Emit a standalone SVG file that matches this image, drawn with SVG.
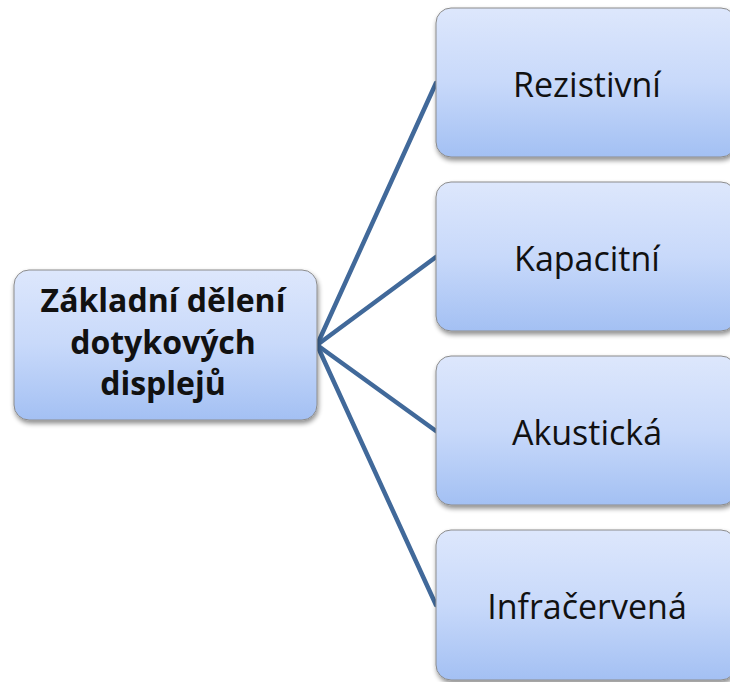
<svg xmlns="http://www.w3.org/2000/svg" width="730" height="682" viewBox="0 0 730 682">
<defs>
<linearGradient id="g" x1="0" y1="0" x2="0" y2="1">
<stop offset="0" stop-color="#DDE7FC"/>
<stop offset="0.5" stop-color="#C8D9FA"/>
<stop offset="1" stop-color="#A3C0F3"/>
</linearGradient>
<filter id="sh" x="-10%" y="-10%" width="125%" height="130%">
<feGaussianBlur in="SourceAlpha" stdDeviation="2.5"/>
<feOffset dx="1" dy="3" result="b"/>
<feComponentTransfer><feFuncA type="linear" slope="0.45"/></feComponentTransfer>
<feMerge><feMergeNode/><feMergeNode in="SourceGraphic"/></feMerge>
</filter>
</defs>
<style>
.box{fill:url(#g);stroke:#8C8C8C;stroke-width:1;filter:url(#sh)}
.t{font-family:"Open Sans","Liberation Sans",sans-serif;font-size:34px;fill:#111;text-anchor:middle}
.b{font-weight:bold;font-size:32px}
.c{stroke:#41699A;stroke-width:4.5;fill:none;stroke-linecap:round}
</style>
<rect width="730" height="682" fill="#fff"/>
<g id="connectors">
<line class="c" x1="317" y1="345" x2="436" y2="83"/>
<line class="c" x1="317" y1="345" x2="436" y2="257"/>
<line class="c" x1="317" y1="345" x2="436" y2="431"/>
<line class="c" x1="317" y1="345" x2="436" y2="605"/>
</g>
<g id="root">
<rect class="box" x="14" y="270" width="303" height="150" rx="15"/>
<text class="t b" x="163" y="312">Základní dělení</text>
<text class="t b" x="163" y="354">dotykových</text>
<text class="t b" x="163" y="395">displejů</text>
</g>
<g id="n1">
<rect class="box" x="436" y="8" width="300" height="149" rx="15"/>
<text class="t" x="587" y="97">Rezistivní</text>
</g>
<g id="n2">
<rect class="box" x="436" y="182" width="300" height="149" rx="15"/>
<text class="t" x="587" y="271">Kapacitní</text>
</g>
<g id="n3">
<rect class="box" x="436" y="356" width="300" height="149" rx="15"/>
<text class="t" x="587" y="445">Akustická</text>
</g>
<g id="n4">
<rect class="box" x="436" y="530" width="300" height="150" rx="15"/>
<text class="t" x="587" y="619">Infračervená</text>
</g>
</svg>
